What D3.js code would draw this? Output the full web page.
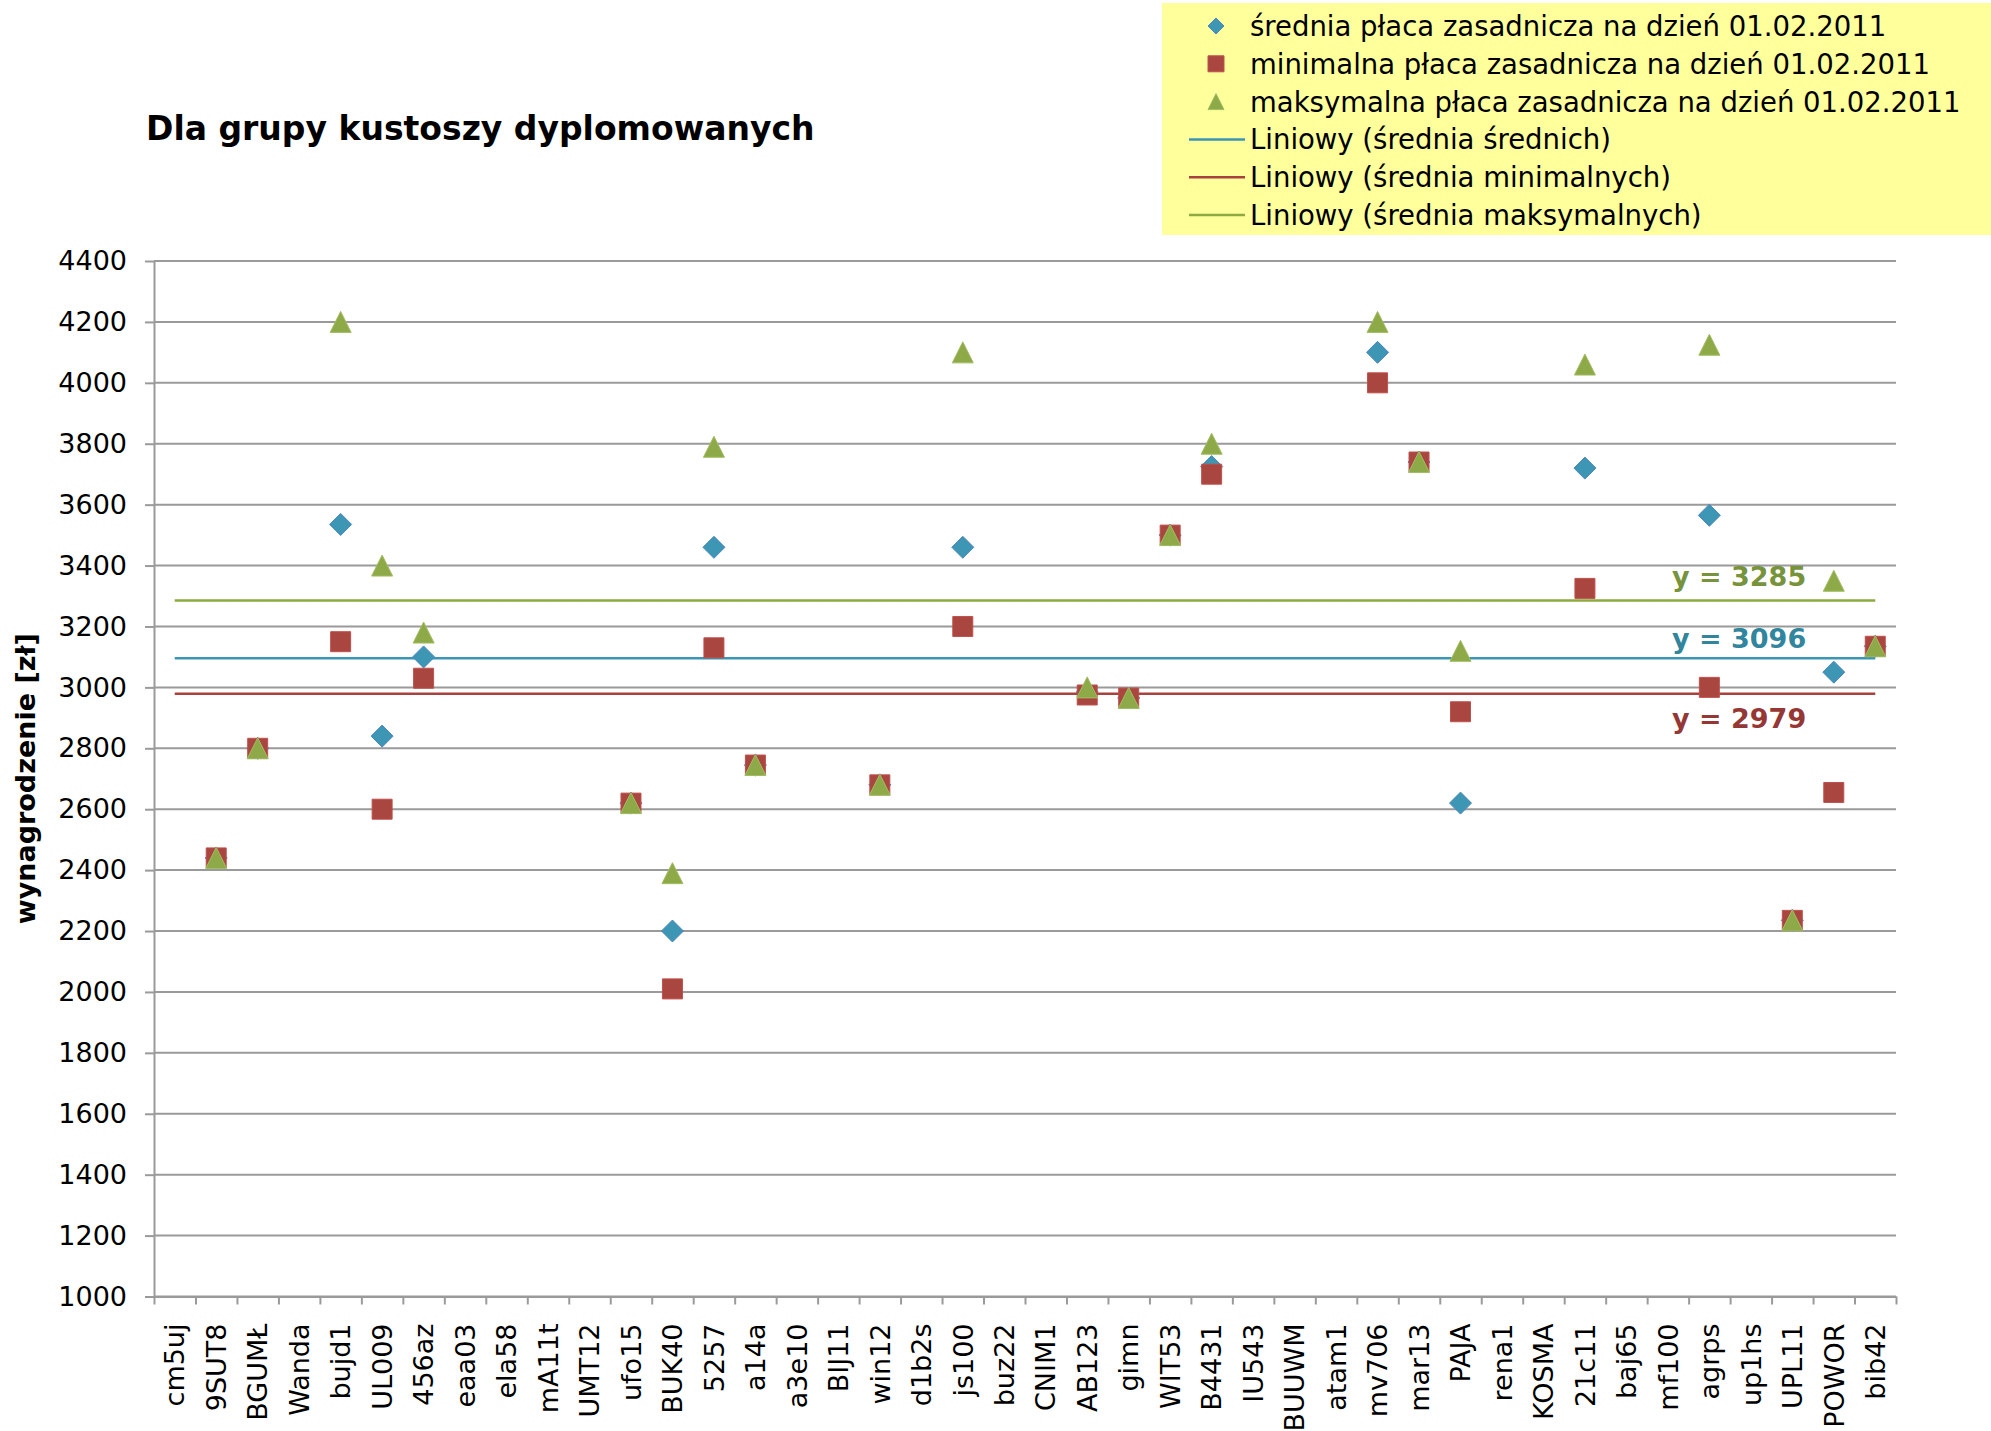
<!DOCTYPE html>
<meta charset="utf-8">
<title>Dla grupy kustoszy dyplomowanych</title>
<style>
body { margin: 0; background: #fff; }
svg { display: block; font-family: "DejaVu Sans", Verdana, sans-serif; }
.axis .domain { stroke: #9a9a9a; stroke-width: 2; }
.axis line { stroke: #9a9a9a; stroke-width: 2; }
</style>
<svg width="1991" height="1431"></svg>
<script src="https://d3js.org/d3.v7.min.js"></script>
<script>
var categories = ["cm5uj","9SUT8","BGUMŁ","Wanda","bujd1","UL009","456az","eaa03","ela58","mA11t",
  "UMT12","ufo15","BUK40","5257","a14a","a3e10","BIJ11","win12","d1b2s","js100",
  "buz22","CNIM1","AB123","gimn","WIT53","B4431","IU543","BUUWM","atam1","mv706",
  "mar13","PAJA","rena1","KOSMA","21c11","baj65","mf100","agrps","up1hs","UPL11",
  "POWOR","bib42"];

// średnia / minimalna / maksymalna płaca (null = brak danych)
var avgValues = [null,2440,2800,null,3535,2840,3100,null,null,null,
  null,2620,2200,3460,2745,null,null,2680,null,3460,
  null,null,2985,2965,3500,3725,null,null,null,4100,
  3740,2620,null,null,3720,null,null,3565,null,2235,
  3050,3135];
var minValues = [null,2440,2800,null,3150,2600,3030,null,null,null,
  null,2620,2010,3130,2745,null,null,2680,null,3200,
  null,null,2975,2965,3500,3700,null,null,null,4000,
  3740,2920,null,null,3325,null,null,3000,null,2235,
  2655,3135];
var maxValues = [null,2440,2800,null,4200,3400,3180,null,null,null,
  null,2620,2390,3790,2745,null,null,2680,null,4100,
  null,null,3000,2965,3500,3800,null,null,null,4200,
  3740,3120,null,null,4060,null,null,4125,null,2235,
  3350,3135];

// linie trendu (średnie): średnich, minimalnych, maksymalnych
var trendValues = [3096, 2979, 3285];

var yTicks = [1000,1200,1400,1600,1800,2000,2200,2400,2600,2800,3000,3200,3400,3600,3800,4000,4200,4400];

var seriesNames = ["średnia płaca zasadnicza na dzień 01.02.2011",
  "minimalna płaca zasadnicza na dzień 01.02.2011",
  "maksymalna płaca zasadnicza na dzień 01.02.2011"];
var trendNames = ["Liniowy (średnia średnich)", "Liniowy (średnia minimalnych)", "Liniowy (średnia maksymalnych)"];

var markerFill = ["#3d96b3", "#a9463f", "#8eaa48"];
var markerStroke = ["#4e86bf", "#c0504d", "#a2bd62"];
var trendColor = ["#3a96b4", "#a8423e", "#8caa40"];
var labelColor = ["#31859c", "#953735", "#77933c"];

var svg = d3.select("svg"),
    plotLeft = 154, plotRight = 1896, plotTop = 261, plotBottom = 1296.5;

var x = d3.scaleBand().domain(categories).range([plotLeft, plotRight]).padding(0);
var xb = d3.scaleLinear().domain([0, categories.length]).range([plotLeft, plotRight]);
var y = d3.scaleLinear().domain([1000, 4400]).range([plotBottom, plotTop]);

// custom marker shapes
var diamondShape = { draw: function(ctx, size) {
  var r = Math.sqrt(size) / 2;
  ctx.moveTo(0, -r); ctx.lineTo(r, 0); ctx.lineTo(0, r); ctx.lineTo(-r, 0); ctx.closePath();
}};
var squareShape = { draw: function(ctx, size) {
  var r = Math.sqrt(size) / 2;
  ctx.rect(-r, -r, 2 * r, 2 * r);
}};
var triangleShape = { draw: function(ctx, size) {
  var r = Math.sqrt(size) / 2;
  ctx.moveTo(0, -r); ctx.lineTo(r, r); ctx.lineTo(-r, r); ctx.closePath();
}};
var shapes = [diamondShape, squareShape, triangleShape];
var markerSize = [22 * 22, 20 * 20, 21 * 21];

// title
svg.append("text")
  .attr("x", 146).attr("y", 140)
  .attr("font-size", 33).attr("font-weight", "bold")
  .text("Dla grupy kustoszy dyplomowanych");

// gridlines
svg.append("g")
  .selectAll("line")
  .data(yTicks)
  .enter().append("line")
  .attr("x1", plotLeft).attr("x2", plotRight)
  .attr("y1", function(d) { return y(d); })
  .attr("y2", function(d) { return y(d); })
  .attr("stroke", "#9a9a9a")
  .attr("stroke-width", 2);

// y axis
var yAxis = svg.append("g")
  .attr("class", "axis")
  .attr("transform", "translate(" + plotLeft + ",0)")
  .call(d3.axisLeft(y).tickValues(yTicks).tickFormat(d3.format("d"))
    .tickSize(9).tickSizeOuter(0).tickPadding(18));
yAxis.selectAll("text").attr("font-size", 27).attr("font-family", "DejaVu Sans").attr("fill", "#000");

// x axis: tick marks between categories
svg.append("g")
  .attr("class", "axis")
  .attr("transform", "translate(0," + plotBottom + ")")
  .call(d3.axisBottom(xb).tickValues(d3.range(0, categories.length + 1)).tickSize(8).tickSizeOuter(0).tickFormat(""));

// x axis: category labels
var xAxis = svg.append("g")
  .attr("transform", "translate(0," + plotBottom + ")")
  .call(d3.axisBottom(x).tickSize(0));
xAxis.select(".domain").remove();
xAxis.selectAll("text")
  .attr("transform", "rotate(-90)")
  .attr("text-anchor", "end")
  .attr("x", -27)
  .attr("y", 0)
  .attr("dy", "0.36em")
  .attr("font-size", 27)
  .attr("font-family", "DejaVu Sans")
  .attr("fill", "#000");

// y axis title
svg.append("text")
  .attr("transform", "translate(25," + ((plotTop + plotBottom) / 2) + ") rotate(-90)")
  .attr("text-anchor", "middle")
  .attr("dy", "0.36em")
  .attr("font-size", 27).attr("font-weight", "bold")
  .text("wynagrodzenie [zł]");

// trend lines
var firstC = categories[0], lastC = categories[categories.length - 1];
svg.append("g")
  .selectAll("line")
  .data(trendValues)
  .enter().append("line")
  .attr("x1", x(firstC) + x.bandwidth() / 2)
  .attr("x2", x(lastC) + x.bandwidth() / 2)
  .attr("y1", function(d) { return y(d); })
  .attr("y2", function(d) { return y(d); })
  .attr("stroke", function(d, i) { return trendColor[i]; })
  .attr("stroke-width", 2.5);

// markers
[avgValues, minValues, maxValues].forEach(function(vals, s) {
  var pts = categories.map(function(c, i) { return { c: c, v: vals[i] }; })
    .filter(function(d) { return d.v != null; });
  svg.append("g")
    .selectAll("path")
    .data(pts)
    .enter().append("path")
    .attr("transform", function(d) { return "translate(" + (x(d.c) + x.bandwidth() / 2) + "," + y(d.v) + ")"; })
    .attr("d", d3.symbol().type(shapes[s]).size(markerSize[s]))
    .attr("fill", markerFill[s])
    .attr("stroke", markerStroke[s])
    .attr("stroke-width", 1);
});

// trend labels
var labelOffsets = [-10, 34, -15];
svg.append("g")
  .selectAll("text")
  .data(trendValues)
  .enter().append("text")
  .attr("x", 1672)
  .attr("y", function(d, i) { return y(d) + labelOffsets[i]; })
  .attr("font-size", 27).attr("font-weight", "bold")
  .attr("fill", function(d, i) { return labelColor[i]; })
  .text(function(d) { return "y = " + d; });

// legend
var legend = svg.append("g");
legend.append("rect")
  .attr("x", 1162).attr("y", 3)
  .attr("width", 829).attr("height", 232)
  .attr("fill", "#ffff9c");

var rows = legend.selectAll("g")
  .data(seriesNames.concat(trendNames))
  .enter().append("g")
  .attr("transform", function(d, i) { return "translate(0," + (26 + i * 37.8) + ")"; });

rows.append("text")
  .attr("x", 1250)
  .attr("dy", "0.36em")
  .attr("font-size", 27.5)
  .attr("fill", "#000")
  .text(function(d) { return d; });

rows.filter(function(d, i) { return i < 3; })
  .append("path")
  .attr("transform", "translate(1216,0)")
  .attr("d", function(d, i) { return d3.symbol().type(shapes[i]).size(16 * 16)(); })
  .attr("fill", function(d, i) { return markerFill[i]; })
  .attr("stroke", function(d, i) { return markerStroke[i]; })
  .attr("stroke-width", 1);

rows.filter(function(d, i) { return i >= 3; })
  .append("line")
  .attr("x1", 1189).attr("x2", 1245)
  .attr("stroke", function(d) { return trendColor[trendNames.indexOf(d)]; })
  .attr("stroke-width", 2.5);
</script>
